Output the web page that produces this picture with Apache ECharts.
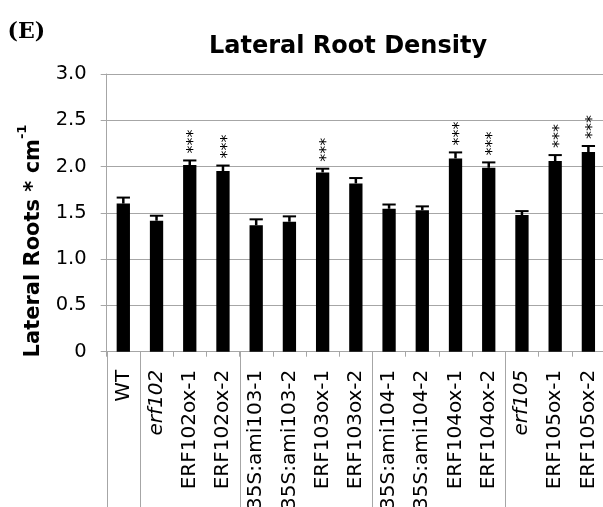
<!DOCTYPE html>
<html><head><meta charset="utf-8">
<script src="https://cdn.jsdelivr.net/npm/echarts@6/dist/echarts.min.js"></script>
<style>html,body{margin:0;padding:0;background:#fff}#c{width:603px;height:507px}</style>
</head><body><div id="c"></div>
<script>
// ---- data ----
const categories = ['WT','erf102','ERF102ox-1','ERF102ox-2','35S:ami103-1','35S:ami103-2','ERF103ox-1','ERF103ox-2','35S:ami104-1','35S:ami104-2','ERF104ox-1','ERF104ox-2','erf105','ERF105ox-1','ERF105ox-2'];
const italicCategories = ['erf102','erf105'];
const meanValues = [1.60, 1.415, 2.016, 1.951, 1.365, 1.404, 1.937, 1.818, 1.544, 1.527, 2.088, 1.987, 1.476, 2.059, 2.157];
const errorValues = [0.065, 0.054, 0.050, 0.060, 0.065, 0.058, 0.040, 0.058, 0.046, 0.043, 0.065, 0.058, 0.043, 0.065, 0.065];
const significance = ['', '', '***', '***', '', '', '***', '', '', '', '***', '***', '', '***', '***'];
const groupStarts = [0, 1, 4, 8, 12];
const yMin = 0, yMax = 3, yStep = 0.5;
const titleText = 'Lateral Root Density';
const yTitleMain = 'Lateral Roots * cm';
const yTitleSup = '-1';
const panelLabel = '(E)';

// ---- style ----
const FONT = 'DejaVu Sans';
const GREY = '#a6a6a6';

const chart = echarts.init(document.getElementById('c'), null, {renderer: 'canvas'});

function errorRender(params, api) {
  const i = api.value(0), v = api.value(1), e = api.value(2);
  const top = api.coord([i, v]);
  const cap = api.coord([i, v + e]);
  const half = api.size([1, 0])[0] * 0.2;
  const children = [
    {type: 'line', shape: {x1: top[0], y1: top[1], x2: cap[0], y2: cap[1]}, style: {stroke: '#000', lineWidth: 2.5}},
    {type: 'line', shape: {x1: cap[0] - half, y1: cap[1], x2: cap[0] + half, y2: cap[1]}, style: {stroke: '#000', lineWidth: 2}}
  ];
  const s = significance[params.dataIndex];
  if (s) {
    children.push({type: 'text', x: cap[0] + 4.5, y: cap[1] - 7, rotation: Math.PI / 2,
      style: {text: s, fontFamily: FONT, fontSize: 16, fill: '#000', textAlign: 'left', textVerticalAlign: 'middle'}});
  }
  return {type: 'group', children};
}

function sepRender(params, api) {
  const c = api.coord([api.value(0), 0]);
  const bw = api.size([1, 0])[0];
  const x = Math.round(c[0] - bw / 2) + 0.5;
  return {type: 'line', shape: {x1: x, y1: c[1], x2: x, y2: api.getHeight()}, style: {stroke: GREY, lineWidth: 1}};
}

const option = {
  animation: false,
  backgroundColor: '#fff',
  title: {
    text: titleText, left: 209, top: 35, padding: 0,
    textStyle: {fontFamily: FONT, fontWeight: 'bold', fontSize: 24, color: '#000'}
  },
  grid: {left: 106.7, top: 74, width: 498.3, height: 277.7, containLabel: false, outerBoundsMode: 'none'},
  xAxis: {
    type: 'category', data: categories,
    axisLine: {lineStyle: {color: GREY, width: 1}},
    axisTick: {show: true, length: 5, interval: 0, lineStyle: {color: GREY}},
    axisLabel: {
      interval: 0, rotate: 90, margin: 18, fontFamily: FONT, fontSize: 20, color: '#000',
      formatter: v => italicCategories.includes(v) ? '{i|' + v + '}' : v,
      rich: {i: {fontStyle: 'italic', fontFamily: FONT, fontSize: 20, color: '#000'}}
    }
  },
  yAxis: {
    type: 'value', min: yMin, max: yMax, interval: yStep,
    axisLine: {show: true, lineStyle: {color: GREY, width: 1}},
    axisTick: {show: true, length: 6, lineStyle: {color: GREY}},
    splitLine: {show: true, lineStyle: {color: GREY, width: 1}},
    axisLabel: {margin: 20, fontFamily: FONT, fontSize: 19.5, color: '#000',
      formatter: v => v === 0 ? '0' : v.toFixed(1)}
  },
  series: [
    {type: 'custom', data: groupStarts.map(i => [i, 0]), encode: {x: 0, y: 1}, renderItem: sepRender, z: 1, clip: false, silent: true},
    {type: 'bar', data: meanValues, barWidth: 13.3, itemStyle: {color: '#000'}, z: 2},
    {type: 'custom', data: meanValues.map((v, i) => [i, v, errorValues[i]]), encode: {x: 0, y: 1}, renderItem: errorRender, z: 3, clip: false}
  ],
  graphic: [
    {type: 'text', x: 7.5, y: 32, style: {text: panelLabel, fontFamily: 'DejaVu Serif', fontWeight: 'bold', fontSize: 22, fill: '#000', textAlign: 'left', textVerticalAlign: 'middle'}},
    {type: 'text', x: 33.4, y: 241, rotation: Math.PI / 2,
      style: {
        text: '{m|' + yTitleMain + '}{s|' + yTitleSup + '}',
        textAlign: 'center', textVerticalAlign: 'middle', fill: '#000',
        rich: {
          m: {fontFamily: FONT, fontWeight: 'bold', fontSize: 21, lineHeight: 34, fill: '#000'},
          s: {fontFamily: FONT, fontWeight: 'bold', fontSize: 13, lineHeight: 13, verticalAlign: 'top', fill: '#000'}
        }
      }}
  ]
};
chart.setOption(option);
</script>
</body></html>
